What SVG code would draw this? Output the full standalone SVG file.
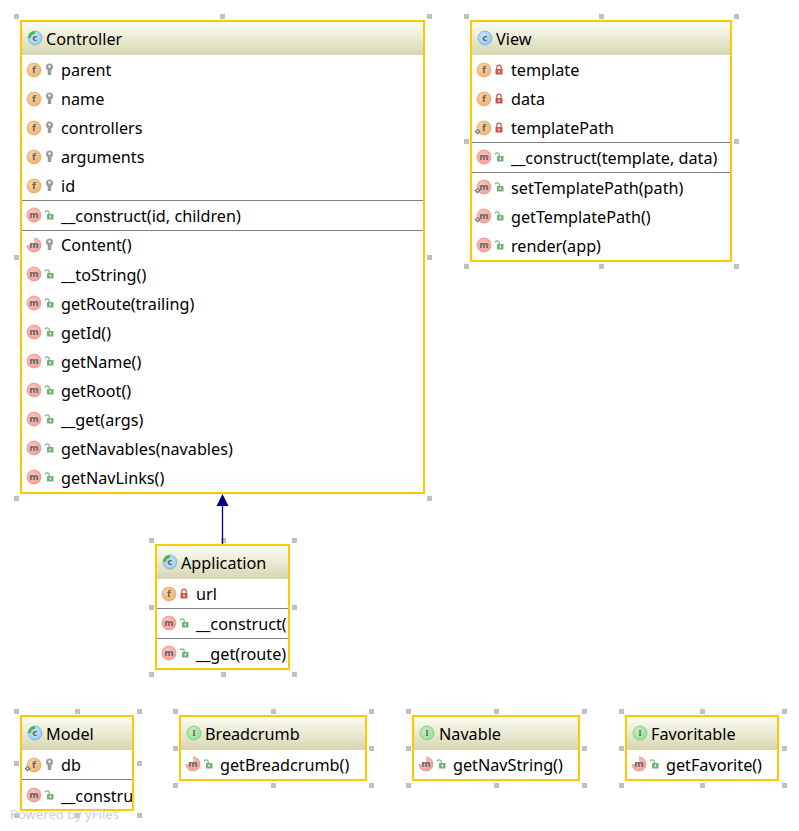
<svg xmlns="http://www.w3.org/2000/svg" xmlns:xlink="http://www.w3.org/1999/xlink" width="799" height="831" viewBox="0 0 799 831">
<style>
text{font-family:"Noto Sans","Open Sans","DejaVu Sans",sans-serif;font-size:16.2px;fill:#000}
.box{fill:#fff;stroke:none}
.border{fill:none;stroke:#ffc800;stroke-width:2}
.head{fill:url(#hg)}
.sep{stroke:#808080;stroke-width:1;fill:none}
.h{fill:#c0c0c0}
.wm{font-size:13.100px;fill:#cfcfcf}
.ic{font-family:"DejaVu Sans",sans-serif;font-size:9px;fill:#666;text-anchor:middle;font-weight:bold}
.con{stroke:#000080;stroke-width:1.3;fill:none}
</style>
<defs>
<linearGradient id="hg" x1="0" y1="0" x2="0" y2="1"><stop offset="0" stop-color="#fdfdf4"/><stop offset="1" stop-color="#d6d6b2"/></linearGradient>
<radialGradient id="gf" cx=".4" cy=".35" r=".8"><stop offset="0" stop-color="#f8d7a8"/><stop offset="1" stop-color="#eeaa60"/></radialGradient>
<radialGradient id="gm" cx=".4" cy=".35" r=".8"><stop offset="0" stop-color="#fcc4bc"/><stop offset="1" stop-color="#f59a90"/></radialGradient>
<radialGradient id="gc" cx=".4" cy=".35" r=".8"><stop offset="0" stop-color="#c4e4fa"/><stop offset="1" stop-color="#8cc6ee"/></radialGradient>
<radialGradient id="gi" cx=".4" cy=".35" r=".8"><stop offset="0" stop-color="#c6f0c0"/><stop offset="1" stop-color="#8cdc94"/></radialGradient>
<g id="i-f"><circle r="7" fill="url(#gf)" stroke="#d9a468" stroke-width=".7"/><text class="ic" y="3">f</text></g>
<g id="i-m"><circle r="7" fill="url(#gm)" stroke="#e08c84" stroke-width=".7"/><text class="ic" y="2.500">m</text></g>
<g id="i-ma"><circle r="7" fill="url(#gm)" stroke="#e08c84" stroke-width=".7"/><path d="M0 0V-8H-8V0Z" fill="#fff"/><text class="ic" y="2.500">m</text></g>
<g id="i-c"><circle r="7" fill="url(#gc)" stroke="#6eaedc" stroke-width=".7"/><text class="ic" y="3">c</text></g>
<g id="i-ca"><circle r="7" fill="url(#gc)" stroke="#6eaedc" stroke-width=".7"/><path d="M0 0V-7A7 7 0 0 0 -7 0Z" fill="#4cb848"/><circle r="4" fill="#b8dcf6"/><text class="ic" y="3">c</text></g>
<g id="i-i"><circle r="7" fill="url(#gi)" stroke="#74c47c" stroke-width=".7"/><text class="ic" y="3" style="font-family:'Liberation Serif',serif">I</text></g>
<g id="b"><path d="M-3-3.500L0-1-3 2-6-1Z" fill="#6f6f6f" transform="translate(-3.500,4.500)"/><circle cx="-6.500" cy="3.500" r="1" fill="#fff"/></g>
<g id="key"><circle cy="-3" r="3.500" fill="#9a9a9a"/><circle cy="-3.500" r="1.200" fill="#fff"/><path d="M-1.700 0H1.700V5H-1.700Z" fill="#9a9a9a"/></g>
<g id="lr"><path d="M-2.200-1V-2.600A2.200 2.200 0 0 1 2.200-2.600V-1" fill="none" stroke="#c8584c" stroke-width="1.200"/><rect x="-3.500" y="-1" width="7" height="5.500" rx=".6" fill="#c8584c"/><rect x="-.7" y=".6" width="1.400" height="2" fill="#fff"/></g>
<g id="lg"><path d="M-4-2.600A2.200 2.200 0 0 1 .2-2.600V-1" fill="none" stroke="#72b27a" stroke-width="1.200"/><rect x="-2" y="-1" width="6.500" height="5.500" rx=".6" fill="#72b27a"/><rect x=".6" y=".6" width="1.400" height="2" fill="#fff"/></g>
<clipPath id="cA"><rect x="157" y="546" width="131" height="122"/></clipPath>
<clipPath id="cM"><rect x="22" y="717" width="110" height="92"/></clipPath>
</defs>

<g id="node-controller">
<rect class="box" x="21" y="21" width="403" height="472"/>
<rect class="head" x="22" y="22" width="401" height="33"/>
<use href="#i-ca" x="35" y="38"/><text x="46" y="45">Controller</text>
<use href="#i-f" x="34" y="70"/><use href="#key" x="49.500" y="70"/><text x="61" y="76">parent</text>
<use href="#i-f" x="34" y="99"/><use href="#key" x="49.500" y="99"/><text x="61" y="105">name</text>
<use href="#i-f" x="34" y="128"/><use href="#key" x="49.500" y="128"/><text x="61" y="134">controllers</text>
<use href="#i-f" x="34" y="157"/><use href="#key" x="49.500" y="157"/><text x="61" y="163">arguments</text>
<use href="#i-f" x="34" y="186"/><use href="#key" x="49.500" y="186"/><text x="61" y="192">id</text>
<path class="sep" d="M22 200.500H423M22 230.500H423"/>
<use href="#i-m" x="34" y="215"/><use href="#lg" x="49" y="215"/><text x="61" y="222">__construct(id, children)</text>
<use href="#i-ma" x="34" y="245"/><use href="#key" x="49.500" y="245"/><text x="61" y="251">Content()</text>
<use href="#i-m" x="34" y="274"/><use href="#lg" x="49" y="274"/><text x="61" y="281">__toString()</text>
<use href="#i-m" x="34" y="303"/><use href="#lg" x="49" y="303"/><text x="61" y="310">getRoute(trailing)</text>
<use href="#i-m" x="34" y="332"/><use href="#lg" x="49" y="332"/><text x="61" y="339">getId()</text>
<use href="#i-m" x="34" y="361"/><use href="#lg" x="49" y="361"/><text x="61" y="368">getName()</text>
<use href="#i-m" x="34" y="390"/><use href="#lg" x="49" y="390"/><text x="61" y="397">getRoot()</text>
<use href="#i-m" x="34" y="419"/><use href="#lg" x="49" y="419"/><text x="61" y="426">__get(args)</text>
<use href="#i-m" x="34" y="448"/><use href="#lg" x="49" y="448"/><text x="61" y="455">getNavables(navables)</text>
<use href="#i-m" x="34" y="477"/><use href="#lg" x="49" y="477"/><text x="61" y="484">getNavLinks()</text>
<rect class="border" x="21" y="21" width="403" height="472"/>
<path class="h" d="M14 14h5v5h-5zM220 14h5v5h-5zM427 14h5v5h-5zM14 255h5v5h-5zM427 255h5v5h-5zM14 496h5v5h-5zM427 496h5v5h-5z"/>
</g>

<g id="node-view">
<rect class="box" x="471" y="21" width="260" height="240"/>
<rect class="head" x="472" y="22" width="258" height="33"/>
<use href="#i-c" x="485" y="38"/><text x="496" y="45">View</text>
<use href="#i-f" x="484" y="70"/><use href="#lr" x="499" y="70"/><text x="511" y="76">template</text>
<use href="#i-f" x="484" y="99"/><use href="#lr" x="499" y="99"/><text x="511" y="105">data</text>
<use href="#i-f" x="484" y="128"/><use href="#b" x="484" y="128"/><use href="#lr" x="499" y="128"/><text x="511" y="134">templatePath</text>
<path class="sep" d="M472 142.500H730M472 172.500H730"/>
<use href="#i-m" x="484" y="157"/><use href="#lg" x="499" y="157"/><text x="511" y="164">__construct(template, data)</text>
<use href="#i-m" x="484" y="187"/><use href="#b" x="484" y="187"/><use href="#lg" x="499" y="187"/><text x="511" y="194">setTemplatePath(path)</text>
<use href="#i-m" x="484" y="216"/><use href="#b" x="484" y="216"/><use href="#lg" x="499" y="216"/><text x="511" y="223">getTemplatePath()</text>
<use href="#i-m" x="484" y="245"/><use href="#lg" x="499" y="245"/><text x="511" y="252">render(app)</text>
<rect class="border" x="471" y="21" width="260" height="240"/>
<path class="h" d="M464 14h5v5h-5zM599 14h5v5h-5zM734 14h5v5h-5zM464 139h5v5h-5zM734 139h5v5h-5zM464 264h5v5h-5zM599 264h5v5h-5zM734 264h5v5h-5z"/>
</g>

<g id="node-application">
<rect class="box" x="156" y="545" width="133" height="124"/>
<rect class="head" x="157" y="546" width="131" height="33"/>
<use href="#i-ca" x="170" y="562"/><text x="181" y="569">Application</text>
<use href="#i-f" x="169" y="594"/><use href="#lr" x="184" y="594"/><text x="196" y="600">url</text>
<path class="sep" d="M157 608.500H288M157 638.500H288"/>
<g clip-path="url(#cA)">
<use href="#i-m" x="169" y="623"/><use href="#lg" x="184" y="623"/><text x="196" y="630">__construct(</text>
<use href="#i-m" x="169" y="653"/><use href="#lg" x="184" y="653"/><text x="196" y="660">__get(route)</text>
</g>
<rect class="border" x="156" y="545" width="133" height="124"/>
<path class="h" d="M149 538h5v5h-5zM221 538h5v5h-5zM292 538h5v5h-5zM149 605h5v5h-5zM292 605h5v5h-5zM149 672h5v5h-5zM221 672h5v5h-5zM292 672h5v5h-5z"/>
</g>

<g id="node-model">
<rect class="box" x="21" y="716" width="112" height="94"/>
<rect class="head" x="22" y="717" width="110" height="33"/>
<use href="#i-ca" x="35" y="733"/><text x="46" y="740">Model</text>
<use href="#i-f" x="34" y="765"/><use href="#b" x="34" y="765"/><use href="#key" x="49.500" y="765"/><text x="61" y="771">db</text>
<path class="sep" d="M22 779.500H132"/>
<g clip-path="url(#cM)">
<use href="#i-m" x="34" y="795"/><use href="#lg" x="49" y="795"/><text x="61" y="802">__construct</text>
</g>
<rect class="border" x="21" y="716" width="112" height="94"/>
<path class="h" d="M14 709h5v5h-5zM75 709h5v5h-5zM137 709h5v5h-5zM14 761h5v5h-5zM137 761h5v5h-5zM14 813h5v5h-5zM75 813h5v5h-5zM137 813h5v5h-5z"/>
</g>

<g id="node-breadcrumb">
<rect class="box" x="180" y="716" width="186" height="64"/>
<rect class="head" x="181" y="717" width="184" height="33"/>
<use href="#i-i" x="194" y="733"/><text x="205" y="740">Breadcrumb</text>
<use href="#i-ma" x="193" y="764"/><use href="#lg" x="208" y="764"/><text x="220" y="771">getBreadcrumb()</text>
<rect class="border" x="180" y="716" width="186" height="64"/>
<path class="h" d="M173 709h5v5h-5zM271 709h5v5h-5zM369 709h5v5h-5zM173 746h5v5h-5zM369 746h5v5h-5zM173 783h5v5h-5zM271 783h5v5h-5zM369 783h5v5h-5z"/>
</g>

<g id="node-navable">
<rect class="box" x="413" y="716" width="166" height="64"/>
<rect class="head" x="414" y="717" width="164" height="33"/>
<use href="#i-i" x="427" y="733"/><text x="439" y="740">Navable</text>
<use href="#i-ma" x="426" y="764"/><use href="#lg" x="441" y="764"/><text x="453" y="771">getNavString()</text>
<rect class="border" x="413" y="716" width="166" height="64"/>
<path class="h" d="M406 709h5v5h-5zM494 709h5v5h-5zM582 709h5v5h-5zM406 746h5v5h-5zM582 746h5v5h-5zM406 783h5v5h-5zM494 783h5v5h-5zM582 783h5v5h-5z"/>
</g>

<g id="node-favoritable">
<rect class="box" x="626" y="716" width="152" height="64"/>
<rect class="head" x="627" y="717" width="150" height="33"/>
<use href="#i-i" x="640" y="733"/><text x="651" y="740">Favoritable</text>
<use href="#i-ma" x="639" y="764"/><use href="#lg" x="654" y="764"/><text x="666" y="771">getFavorite()</text>
<rect class="border" x="626" y="716" width="152" height="64"/>
<path class="h" d="M619 709h5v5h-5zM700 709h5v5h-5zM782 709h5v5h-5zM619 746h5v5h-5zM782 746h5v5h-5zM619 783h5v5h-5zM700 783h5v5h-5zM782 783h5v5h-5z"/>
</g>

<g id="connectors">
<path class="con" d="M222.500 544V505"/>
<path d="M222.500 494L228.500 506H216.500Z" fill="#000080"/>
</g>

<text class="wm" x="10" y="819">Powered by yFiles</text>
</svg>
